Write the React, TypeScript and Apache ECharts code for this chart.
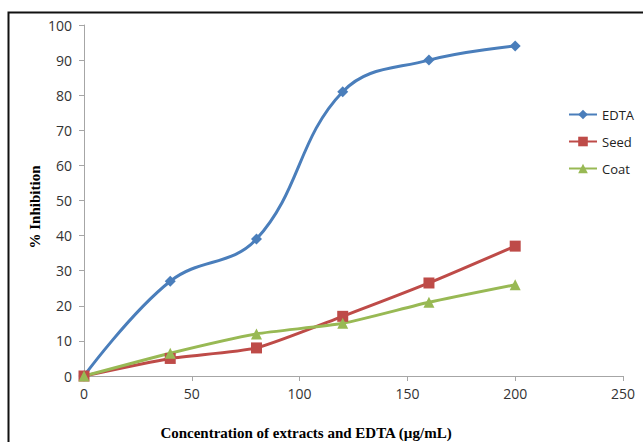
import React, { useEffect, useRef } from "react";
import * as echarts from "echarts";

const xValues = [0, 40, 80, 120, 160, 200];
const edta = [0, 27, 39, 81, 90, 94];
const seed = [0, 5, 8, 17, 26.5, 37];
const coat = [0, 6.5, 12, 15, 21, 26];
const seriesNames = ["EDTA", "Seed", "Coat"];
const xTitle = "Concentration of extracts and EDTA (µg/mL)";
const yTitle = "% Inhibition";

export default function App() {
  const ref = useRef<HTMLDivElement>(null);
  useEffect(() => {
    const chart = echarts.init(ref.current!, null, { renderer: "svg" });
    const mk = (vals: number[]) => xValues.map((x, i) => [x, vals[i]]);
    const labelFont = { fontFamily: "Open Sans", fontSize: 14, color: "#333" };
    const titleStyle = { fontFamily: "Liberation Serif", fontWeight: "bold", fontSize: 15, fill: "#000" };
    chart.setOption({
      animation: false,
      backgroundColor: "#fff",
      grid: { left: 84, top: 25, right: 20, bottom: 66 },
      xAxis: {
        type: "value",
        min: 0,
        max: 250,
        interval: 50,
        axisLine: { lineStyle: { color: "#a6a6a6", width: 1 } },
        axisTick: { show: true, length: 5, lineStyle: { color: "#a6a6a6" } },
        axisLabel: { ...labelFont, margin: 10 },
        splitLine: { show: false },
      },
      yAxis: {
        type: "value",
        min: 0,
        max: 100,
        interval: 10,
        axisLine: { show: true, lineStyle: { color: "#a6a6a6", width: 1 } },
        axisTick: { show: true, length: 5, lineStyle: { color: "#a6a6a6" } },
        axisLabel: { ...labelFont, margin: 12 },
        splitLine: { show: false },
      },
      legend: {
        orient: "vertical",
        left: 563,
        top: 103,
        itemGap: 14,
        itemWidth: 28,
        itemHeight: 12,
        textStyle: { fontFamily: "Open Sans", fontSize: 13, color: "#222" },
        data: seriesNames,
      },
      graphic: [
        {
          type: "rect",
          shape: { x: 8.5, y: 12.5, width: 700, height: 500 },
          style: { fill: "none", stroke: "#111", lineWidth: 2 },
          silent: true,
        },
        {
          type: "text",
          x: 306,
          y: 433,
          style: { ...titleStyle, text: xTitle, align: "center", verticalAlign: "middle" },
          silent: true,
        },
        {
          type: "text",
          x: 35,
          y: 207,
          rotation: Math.PI / 2,
          style: { ...titleStyle, text: yTitle, align: "center", verticalAlign: "middle" },
          silent: true,
        },
      ],
      series: [
        {
          name: seriesNames[0],
          type: "line",
          data: mk(edta),
          smooth: 0.4,
          symbol: "diamond",
          symbolSize: 11,
          lineStyle: { width: 3, color: "#4a7ebb" },
          itemStyle: { color: "#4a7ebb" },
        },
        {
          name: seriesNames[1],
          type: "line",
          data: mk(seed),
          smooth: 0.2,
          symbol: "rect",
          symbolSize: 11,
          lineStyle: { width: 3, color: "#be4b48" },
          itemStyle: { color: "#be4b48" },
        },
        {
          name: seriesNames[2],
          type: "line",
          data: mk(coat),
          smooth: 0.2,
          symbol: "triangle",
          symbolSize: 11,
          lineStyle: { width: 3, color: "#98b954" },
          itemStyle: { color: "#98b954" },
        },
      ],
    });
    return () => chart.dispose();
  }, []);
  return (
    <div
      ref={ref}
      style={{ position: "fixed", left: 0, top: 0, width: 643, height: 442 }}
    />
  );
}
